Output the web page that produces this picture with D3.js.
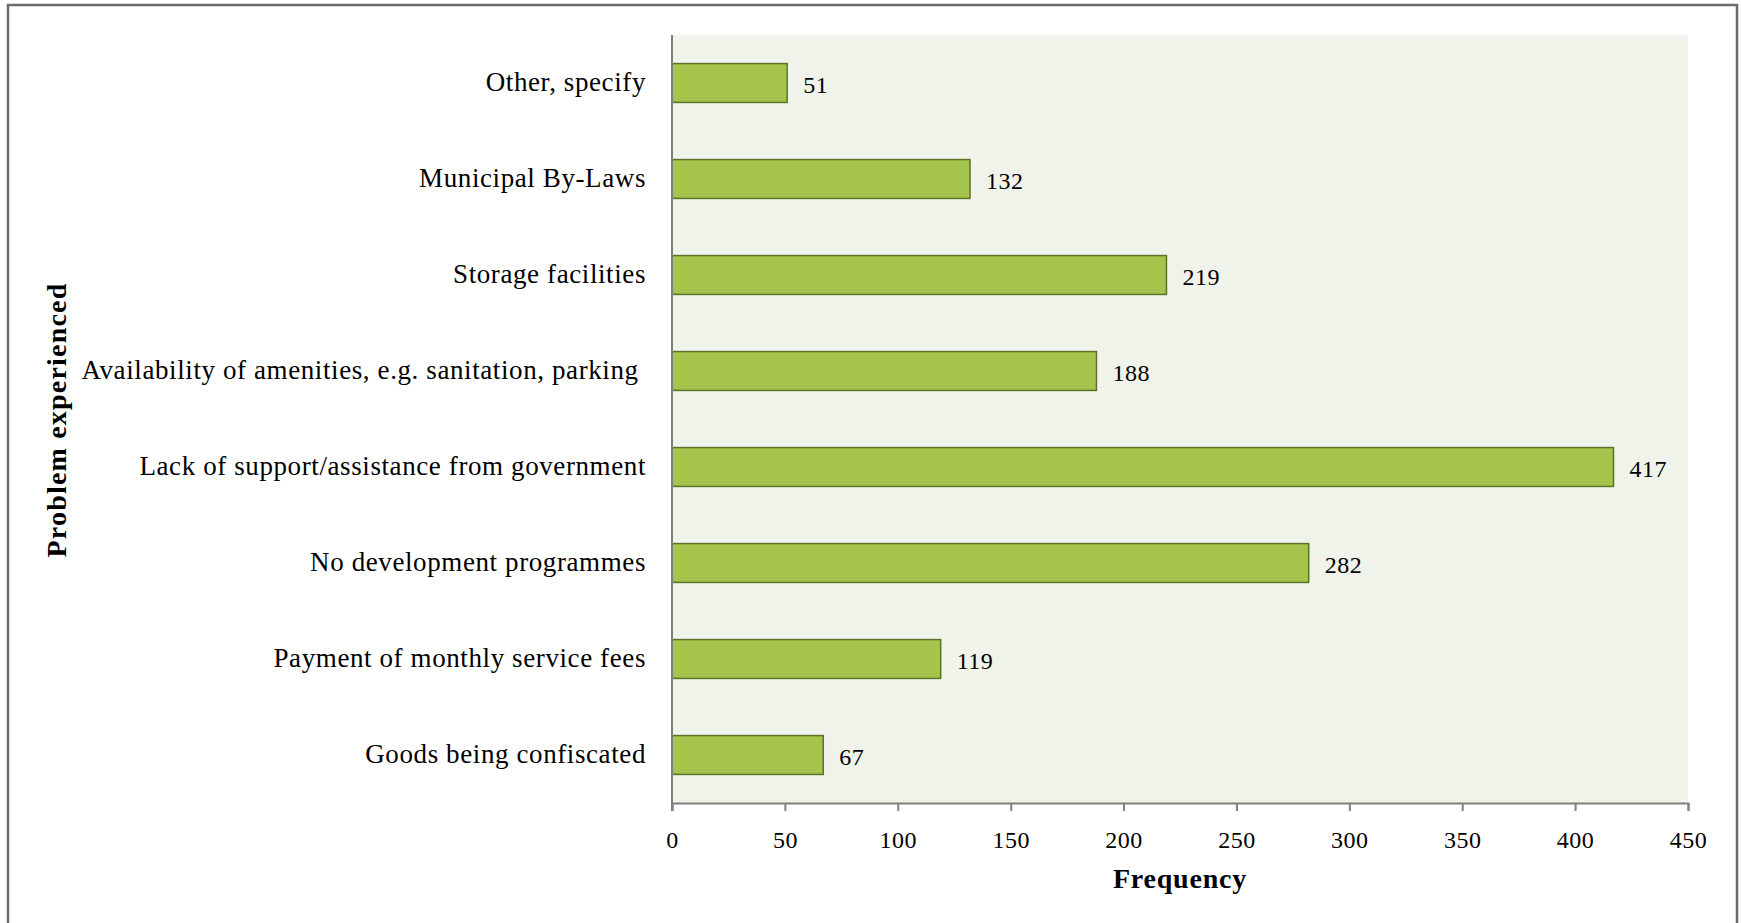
<!DOCTYPE html>
<html>
<head>
<meta charset="utf-8">
<script src="https://cdn.jsdelivr.net/npm/d3@7"></script>
<style>
  html, body { margin: 0; padding: 0; background: #fff; }
  svg { display: block; }
  text { font-family: "Liberation Serif", "DejaVu Serif", serif; fill: #000; white-space: pre; }
</style>
</head>
<body>
<svg id="chart" width="1741" height="923"></svg>
<script>
// Problems experienced, listed top to bottom
const categories = [
  "Other, specify",
  "Municipal By-Laws",
  "Storage facilities",
  "Availability of amenities, e.g. sanitation, parking ",
  "Lack of support/assistance from government",
  "No development programmes",
  "Payment of monthly service fees",
  "Goods being confiscated"
];
const frequencies = [51, 132, 219, 188, 417, 282, 119, 67];
const xTicks = [0, 50, 100, 150, 200, 250, 300, 350, 400, 450];

const svg = d3.select("#chart");
const plot = { left: 672, top: 35, right: 1688, bottom: 803 };

// Outer frame
svg.append("rect")
  .attr("x", 8).attr("y", 5)
  .attr("width", 1729).attr("height", 940)
  .attr("fill", "#fff").attr("stroke", "#6b6b6b").attr("stroke-width", 2.5);

// Plot background
svg.append("rect")
  .attr("x", plot.left).attr("y", plot.top)
  .attr("width", plot.right - plot.left).attr("height", plot.bottom - plot.top)
  .attr("fill", "#f0f3e9");

const x = d3.scaleLinear().domain([0, 450]).range([plot.left, plot.right]);
const y = d3.scaleBand().domain(categories).range([plot.top, plot.bottom])
  .paddingInner(0.595).paddingOuter(0.2975);

const data = categories.map((c, i) => ({ cat: c, val: frequencies[i] }));

// Bars
svg.append("g").selectAll("rect").data(data).join("rect")
  .attr("x", x(0))
  .attr("y", d => y(d.cat))
  .attr("width", d => x(d.val) - x(0))
  .attr("height", y.bandwidth())
  .attr("fill", "#a6c44b")
  .attr("stroke", "#5b7327")
  .attr("stroke-width", 1.5);

// Value labels
svg.append("g").selectAll("text").data(data).join("text")
  .attr("x", d => x(d.val) + 16)
  .attr("y", d => y(d.cat) + y.bandwidth() / 2)
  .attr("dy", "0.42em")
  .attr("font-size", 24)
  .attr("letter-spacing", 0.5)
  .text(d => d.val);

// Category labels
svg.append("g").selectAll("text").data(data).join("text")
  .attr("x", 646)
  .attr("y", d => y(d.cat) + y.bandwidth() / 2)
  .attr("dy", "0.3em")
  .attr("text-anchor", "end")
  .attr("font-size", 27)
  .attr("letter-spacing", 0.6)
  .text(d => d.cat);

// X axis
const xAxis = svg.append("g")
  .attr("transform", `translate(0,${plot.bottom})`)
  .call(d3.axisBottom(x).tickValues(xTicks).tickSize(8).tickSizeOuter(8).tickPadding(20));
xAxis.select(".domain").attr("stroke", "#808080").attr("stroke-width", 2);
xAxis.selectAll(".tick line").attr("stroke", "#808080").attr("stroke-width", 2);
xAxis.selectAll(".tick text")
  .attr("font-family", "Liberation Serif, DejaVu Serif, serif")
  .attr("font-size", 24).attr("letter-spacing", 0.5).attr("fill", "#000");

// Y axis line
svg.append("line")
  .attr("x1", plot.left).attr("x2", plot.left)
  .attr("y1", plot.top).attr("y2", plot.bottom + 8)
  .attr("stroke", "#808080").attr("stroke-width", 2);

// Axis titles
svg.append("text")
  .attr("x", (plot.left + plot.right) / 2).attr("y", 888)
  .attr("text-anchor", "middle")
  .attr("font-size", 28).attr("font-weight", "bold").attr("letter-spacing", 0.8)
  .text("Frequency");

svg.append("text")
  .attr("transform", "translate(66,420) rotate(-90)")
  .attr("text-anchor", "middle")
  .attr("font-size", 28).attr("font-weight", "bold").attr("letter-spacing", 1.2)
  .text("Problem experienced");
</script>
</body>
</html>
